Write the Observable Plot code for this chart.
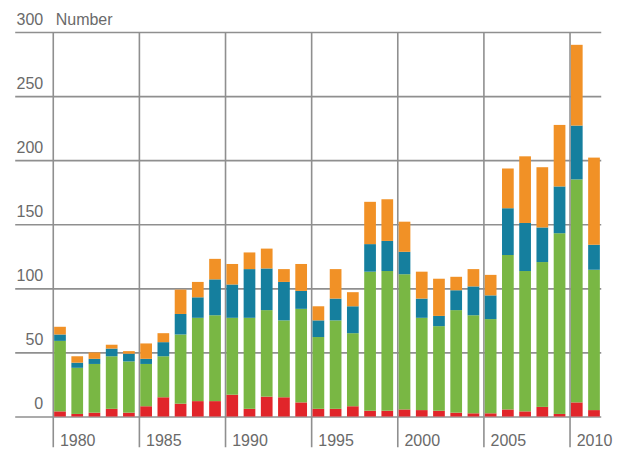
<!DOCTYPE html>
<html>
<head>
<meta charset="utf-8">
<script src="https://cdn.jsdelivr.net/npm/d3@7"></script>
<script src="https://cdn.jsdelivr.net/npm/@observablehq/plot@0.6"></script>
<style>
  html, body { margin: 0; padding: 0; background: #ffffff; }
  #chart svg { display: block; }
</style>
</head>
<body>
<div id="chart"></div>
<script>
// ---- data ----
const years = d3.range(1979, 2011);
const seriesNames = ["Geophysical events", "Meteorological events", "Hydrological events", "Climatological events"];
const seriesColors = ["#e1252a", "#79b744", "#157f9e", "#f19126"];
const geophysical   = [4, 2, 3, 6, 3, 8, 15, 10, 12, 12, 17, 6, 15.5, 15, 11, 6, 6, 8, 4.5, 4.5, 5.5, 5, 4.5, 3, 2.5, 2.5, 5.5, 4, 7.5, 2, 11, 5];
const meteorological = [55, 36, 38, 41, 40, 33, 32, 54, 65, 67, 60, 71, 67.5, 60, 73, 56, 69, 57, 108.5, 109, 105.5, 72, 66, 80, 76.5, 73.5, 120.5, 109.5, 113, 141, 174, 109.5];
const hydrological  = [5, 4, 4, 6, 6, 4, 11, 16, 16, 28, 26, 38, 32.5, 30, 14, 13, 17, 21, 21.5, 23.5, 17.5, 15, 8, 15.5, 22.5, 18.5, 36.5, 37.5, 27, 36.5, 42, 19.5];
const climatological = [6, 5, 5, 3, 2, 12, 7, 19, 12, 16, 16, 13, 15.5, 10, 21, 11, 23, 11, 33, 32.5, 23.5, 21, 29, 10.5, 13.5, 16, 31, 52, 47, 48, 63, 68];
const yTicks = [0, 50, 100, 150, 200, 250, 300];
const xTickLabels = [1980, 1985, 1990, 1995, 2000, 2005, 2010];
const xGridYears = [1979, 1984, 1989, 1994, 1999, 2004, 2009];
const yTitle = "Number";

// ---- tidy table ----
const seriesValues = [geophysical, meteorological, hydrological, climatological];
const table = [];
seriesNames.forEach((name, si) => {
  years.forEach((year, i) => table.push({year, series: name, value: seriesValues[si][i]}));
});

const gridColor = "#8f8f8f";
const textColor = "#6a6a6a";
const font = "Liberation Sans, Arial, sans-serif";

const chart = Plot.plot({
  width: 627,
  height: 449,
  margin: 0,
  style: {background: "#ffffff", fontFamily: font},
  x: {type: "linear", domain: [1979, 2010], range: [60, 594], axis: null},
  y: {type: "linear", domain: [0, 300], range: [416.5, 32], axis: null},
  color: {domain: seriesNames, range: seriesColors},
  marks: [
    Plot.ruleY(yTicks, {y: d => d, x1: 1976.4, x2: 2010.42, stroke: gridColor, strokeWidth: 1.6}),
    Plot.ruleX(xGridYears, {x: d => d - 0.42, y1: -24, y2: 300, stroke: gridColor, strokeWidth: 1.6}),
    Plot.rectY(table, Plot.stackY({
      x: "year",
      x1: d => d.year - 0.34,
      x2: d => d.year + 0.34,
      y: "value",
      fill: "series",
      order: seriesNames
    })),
    Plot.text(yTicks, {x: 1978.0, y: d => d, text: d => String(d), textAnchor: "end", dy: -13, fontSize: 16, fill: textColor}),
    Plot.text([yTitle], {x: 1978.72, y: 300, text: d => d, textAnchor: "start", dy: -13, fontSize: 16, fill: textColor}),
    Plot.text(xTickLabels, {x: d => d, y: 0, text: d => String(d), dy: 24, fontSize: 16, fill: textColor})
  ]
});
document.getElementById("chart").appendChild(chart);
</script>
</body>
</html>
